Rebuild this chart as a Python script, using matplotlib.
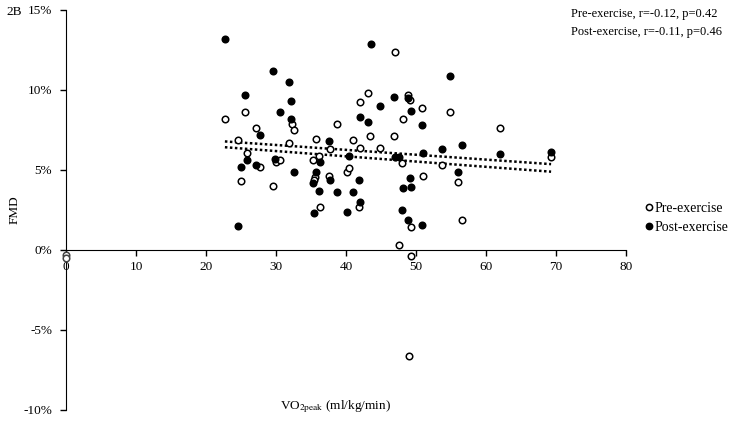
import numpy as np
import matplotlib.pyplot as plt
from matplotlib.ticker import FuncFormatter
from matplotlib.lines import Line2D

# VO2peak (ml/kg/min) and FMD (%)
pre_x = [22.7, 24.5, 25.0, 25.5, 25.8, 27.1, 27.7, 29.5, 30.0, 30.6, 31.9, 32.35, 32.6,
         35.3, 35.5, 35.4, 35.7, 36.1, 36.3, 37.5, 37.7, 38.65, 40.2, 40.4, 41.0, 41.9,
         42.0, 42.0, 43.2, 43.4, 44.9, 46.9, 47.0, 47.5, 48.0, 48.1, 48.9, 49.1, 49.3,
         49.3, 49.0, 50.9, 51.0, 53.75, 54.9, 56.0, 56.6, 62.0, 69.3]
pre_y = [8.2, 6.9, 4.3, 8.6, 6.05, 7.6, 5.2, 4.0, 5.5, 5.6, 6.7, 7.9, 7.5,
         5.65, 4.55, 4.35, 6.95, 5.9, 2.7, 4.6, 6.3, 7.85, 4.85, 5.1, 6.9, 2.7,
         9.25, 6.4, 9.8, 7.1, 6.4, 7.1, 12.4, 0.3, 5.45, 8.2, 9.7, 9.35, 1.45,
         -0.4, -6.6, 8.9, 4.6, 5.3, 8.6, 4.25, 1.9, 7.6, 5.8]

post_x = [22.7, 24.5, 25.0, 25.5, 25.8, 27.1, 27.7, 29.5, 29.9, 30.6, 31.9, 32.2, 32.2,
          32.6, 35.3, 35.4, 35.7, 36.1, 36.3, 37.6, 37.7, 38.65, 40.2, 40.4, 41.0, 41.9,
          42.0, 42.0, 43.2, 43.5, 44.9, 46.9, 47.0, 47.5, 48.0, 48.1, 48.9, 48.9, 49.1,
          49.3, 49.3, 50.9, 50.9, 51.0, 53.75, 54.9, 56.0, 56.6, 62.0, 69.3]
post_y = [13.2, 1.5, 5.2, 9.7, 5.65, 5.3, 7.2, 11.2, 5.7, 8.6, 10.5, 9.3, 8.2,
          4.9, 4.2, 2.3, 4.9, 3.7, 5.5, 6.8, 4.35, 3.6, 2.4, 5.9, 3.6, 4.35,
          3.0, 8.3, 8.0, 12.9, 9.0, 9.55, 5.8, 5.8, 2.5, 3.9, 9.5, 1.9, 4.5,
          8.7, 3.95, 7.8, 1.55, 6.05, 6.3, 10.9, 4.9, 6.55, 6.0, 6.1]

# stray markers sitting on the origin in the original
origin_x = [0, 0]
origin_y = [-0.3, -0.5]

x_ticks = [0, 10, 20, 30, 40, 50, 60, 70, 80]
y_ticks = [-10, -5, 0, 5, 10, 15]

plt.rcParams['font.family'] = ['Liberation Serif', 'DejaVu Serif']
plt.rcParams['mathtext.fontset'] = 'stix'

fig = plt.figure(figsize=(7.33, 4.32), dpi=100)
ax = fig.add_axes([66/733, 1-410/432, 560/733, 400/432])

ax.scatter(pre_x, pre_y, s=22, facecolors='white', edgecolors='black', linewidths=1.1, zorder=3)
ax.scatter(post_x, post_y, s=22, facecolors='black', edgecolors='black', linewidths=1.1, zorder=3)
ax.scatter(origin_x, origin_y, s=22, facecolors='white', edgecolors='#444444', linewidths=1.1,
           zorder=3, clip_on=False)

# linear trendlines
for xs, ys in [(pre_x, pre_y), (post_x, post_y)]:
    m, b = np.polyfit(xs, ys, 1)
    xx = np.array([min(xs), max(xs)])
    ax.plot(xx, m*xx + b, color='black', lw=1.8, linestyle=(0, (1, 1)), zorder=2)

ax.set_xlim(0, 80)
ax.set_ylim(-10, 15)
ax.set_xticks(x_ticks)
ax.set_yticks(y_ticks)
ax.yaxis.set_major_formatter(FuncFormatter(lambda v, p: '%d%%' % v))
ax.spines['top'].set_visible(False)
ax.spines['right'].set_visible(False)
ax.spines['bottom'].set_position(('data', 0))
ax.tick_params(axis='both', direction='out', length=4, width=1, labelsize=9.5, colors='black')
ax.tick_params(axis='y', pad=6)
ax.tick_params(axis='x', pad=4)

fig.text(335/733, 1-407/432, 'VO$_{2\\mathrm{peak}}$ (ml/kg/min)', ha='center', va='center', fontsize=9.5)
fig.text(15/733, 1-210/432, 'FMD', rotation=90, ha='center', va='center', fontsize=9.5)
fig.text(6/733, 1-12/432, '2B', ha='left', va='center', fontsize=9.5)
fig.text(571/733, 1-14/432, 'Pre-exercise, r=-0.12, p=0.42', ha='left', va='center', fontsize=9)
fig.text(571/733, 1-32/432, 'Post-exercise, r=-0.11, p=0.46', ha='left', va='center', fontsize=9)

handles = [Line2D([], [], marker='o', ls='', mfc='white', mec='black', ms=4.5, mew=1.1),
           Line2D([], [], marker='o', ls='', mfc='black', mec='black', ms=4.5, mew=1.1)]
fig.legend(handles, ['Pre-exercise', 'Post-exercise'], loc='center left',
           bbox_to_anchor=(643/733, 1-218/432), frameon=False, fontsize=10,
           handletextpad=0.05, handlelength=0.8, labelspacing=0.45, borderaxespad=0,
           borderpad=0)

fig.savefig('out.png', dpi=100)
